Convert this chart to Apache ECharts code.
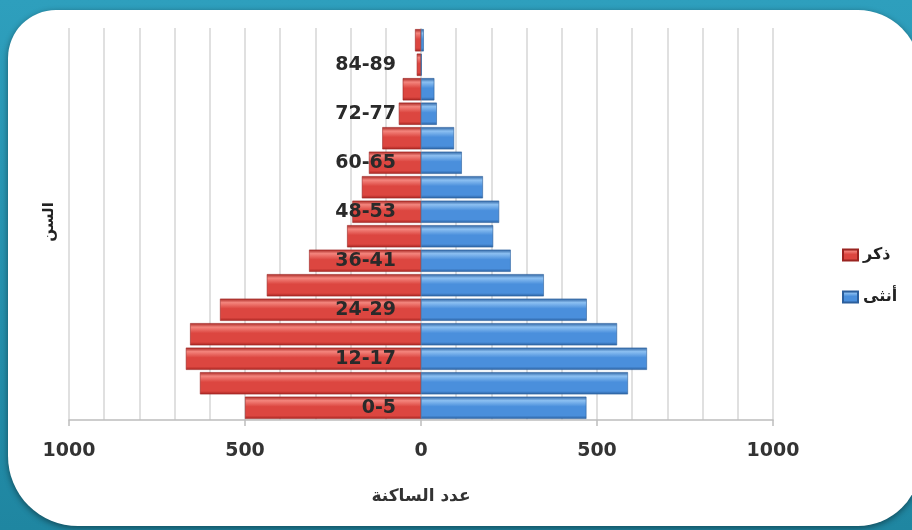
<!DOCTYPE html>
<html>
<head>
<meta charset="utf-8">
<title>الهرم السكاني</title>
<script src="https://cdn.jsdelivr.net/npm/echarts@6/dist/echarts.min.js"></script>
<style>
  html, body { margin: 0; padding: 0; background: #2a98b6; }
  #chart { width: 912px; height: 530px; }
</style>
</head>
<body>
<div id="chart"></div>
<script>
// Age groups, bottom to top
const ageGroups = ['0-5', '6-11', '12-17', '18-23', '24-29', '30-35', '36-41', '42-47',
                   '48-53', '54-59', '60-65', '66-71', '72-77', '78-83', '84-89', '90-95'];
// Males (ذكر) per age group
const maleCounts = [500, 628, 668, 656, 571, 438, 318, 210, 195, 168, 148, 110, 63, 52, 12, 17];
// Females (أنثى) per age group
const femaleCounts = [470, 588, 642, 557, 471, 349, 255, 205, 222, 176, 116, 94, 45, 38, 2, 8];
// Population axis
const axisMin = -1000;
const axisMax = 1000;
const axisStep = 500;

const chartWidth = 912;
const gridLeft = 69;
const gridRight = 139;
// the age axis sits on the zero line, in the middle of the plot
const ageAxisOffset = -(chartWidth - gridLeft - gridRight) / 2;

const chart = echarts.init(document.getElementById('chart'));

function tube(light, mid, dark) {
  return new echarts.graphic.LinearGradient(0, 0, 0, 1, [
    { offset: 0, color: dark },
    { offset: 0.18, color: light },
    { offset: 0.45, color: mid },
    { offset: 0.85, color: mid },
    { offset: 1, color: dark }
  ]);
}

const redFill = tube('#f4857d', '#dc4640', '#a52420');
const blueFill = tube('#8cc0f2', '#4a8fdc', '#2a5f9e');
const textFont = 'DejaVu Sans';

chart.setOption({
  backgroundColor: new echarts.graphic.LinearGradient(0, 0, 0, 1, [
    { offset: 0, color: '#2e9fbd' },
    { offset: 1, color: '#1f86a1' }
  ]),
  animation: false,
  graphic: [
    {
      type: 'rect',
      z: -10,
      shape: { x: 8, y: 10, width: 912, height: 516, r: [48, 62, 62, 70] },
      style: {
        fill: '#ffffff',
        shadowBlur: 6,
        shadowOffsetY: 2,
        shadowColor: 'rgba(0,0,0,0.45)'
      }
    },
    {
      type: 'text',
      x: 49,
      y: 222,
      rotation: Math.PI / 2,
      style: {
        text: 'السن',
        font: 'bold 15px "DejaVu Sans"',
        fill: '#222',
        align: 'center',
        verticalAlign: 'middle'
      }
    },
    {
      type: 'text',
      x: 421,
      y: 497,
      style: {
        text: 'عدد الساكنة',
        font: 'bold 17px "DejaVu Sans"',
        fill: '#333',
        align: 'center',
        verticalAlign: 'middle'
      }
    }
  ],
  grid: { left: gridLeft, right: gridRight, top: 28, bottom: 110, containLabel: false, outerBoundsMode: 'none' },
  legend: {
    orient: 'vertical',
    left: 837,
    top: 242,
    itemWidth: 15,
    itemHeight: 11,
    itemGap: 26,
    icon: 'rect',
    textStyle: { fontFamily: textFont, fontSize: 16, fontWeight: 'bold', color: '#222' },
    data: ['ذكر', 'أنثى']
  },
  xAxis: {
    type: 'value',
    min: axisMin,
    max: axisMax,
    interval: axisStep,
    axisLine: { show: true, lineStyle: { color: '#bdbdbd', width: 1.5 } },
    axisTick: { show: true, length: 6, lineStyle: { color: '#bdbdbd', width: 1.5 } },
    axisLabel: {
      margin: 22,
      fontFamily: textFont,
      fontSize: 19,
      fontWeight: 'bold',
      color: '#333',
      formatter: v => String(Math.abs(v))
    },
    splitLine: { show: true, lineStyle: { color: '#d6d6d6', width: 1.5 } },
    minorTick: { show: false, splitNumber: 5 },
    minorSplitLine: { show: true, lineStyle: { color: '#d6d6d6', width: 1.5 } }
  },
  yAxis: {
    type: 'category',
    data: ageGroups,
    z: 10,
    position: 'left',
    offset: ageAxisOffset,
    axisLine: { show: false, onZero: false },
    axisTick: { show: false },
    axisLabel: {
      interval: 1,
      margin: 25,
      fontFamily: textFont,
      fontSize: 19,
      fontWeight: 'bold',
      color: '#2a2a2a'
    },
    splitLine: { show: false }
  },
  series: [
    {
      name: 'ذكر',
      type: 'bar',
      stack: 'pop',
      barCategoryGap: '9%',
      itemStyle: { color: redFill, borderColor: '#9a2421', borderWidth: 0.6 },
      data: maleCounts.map(v => -v)
    },
    {
      name: 'أنثى',
      type: 'bar',
      stack: 'pop',
      barCategoryGap: '9%',
      itemStyle: { color: blueFill, borderColor: '#2c5f9c', borderWidth: 0.6 },
      data: femaleCounts
    }
  ]
});
</script>
</body>
</html>
